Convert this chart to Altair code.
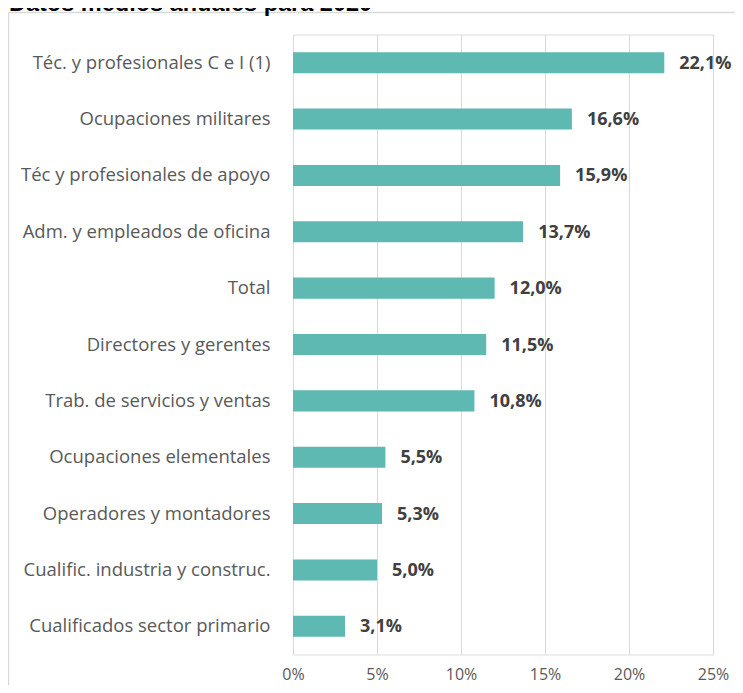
import altair as alt
import pandas as pd

categories = [
    "Téc. y profesionales C e I (1)",
    "Ocupaciones militares",
    "Téc y profesionales de apoyo",
    "Adm. y empleados de oficina",
    "Total",
    "Directores y gerentes",
    "Trab. de servicios y ventas",
    "Ocupaciones elementales",
    "Operadores y montadores",
    "Cualific. industria y construc.",
    "Cualificados sector primario",
]
values = [22.1, 16.6, 15.9, 13.7, 12.0, 11.5, 10.8, 5.5, 5.3, 5.0, 3.1]
x_ticks = [0, 0.05, 0.10, 0.15, 0.20, 0.25]
title_text = "Datos medios anuales para 2020"

df = pd.DataFrame({
    "cat": categories,
    "val": [v / 100 for v in values],
    "label": [f"{v:.1f}".replace(".", ",") + "%" for v in values],
})

x_enc = alt.X(
    "val:Q",
    scale=alt.Scale(domain=[0, 0.25], nice=False, zero=True),
    axis=alt.Axis(
        values=x_ticks, format=".0%", title=None, domain=False, ticks=False,
        tickSize=0, grid=True, gridColor="#d9d9d9", gridWidth=1,
        labelFont="Open Sans", labelFontSize=16, labelColor="#595959",
        labelPadding=12, labelFlush=False,
    ),
)
y_enc = alt.Y(
    "cat:N",
    sort=categories,
    scale=alt.Scale(paddingInner=0.627, paddingOuter=0.3135),
    axis=alt.Axis(
        title=None, domain=False, ticks=False, tickSize=0,
        labelFont="Open Sans", labelFontSize=18.5, labelColor="#595959",
        labelPadding=23, labelLimit=0, labelOverlap=False,
    ),
)

bars = alt.Chart(df).mark_bar(color="#5DB9B2").encode(x=x_enc, y=y_enc)

labels = alt.Chart(df).mark_text(
    align="left", baseline="middle", dx=15, dy=1, font="Open Sans",
    fontSize=18, fontWeight="bold", color="#404040",
).encode(
    x=alt.X("val:Q"),
    y=alt.Y("cat:N", sort=categories),
    text="label:N",
)

one = alt.Data(values=[{"k": 1}])

border_top = alt.Chart(one).mark_rule(color="#d9d9d9", strokeWidth=1.5).encode(
    x=alt.value(-284.5), x2=alt.value(442), y=alt.value(-22)
)
border_left = alt.Chart(one).mark_rule(color="#d9d9d9", strokeWidth=1.5).encode(
    x=alt.value(-284.5), y=alt.value(-22), y2=alt.value(651)
)

title = alt.Chart(alt.Data(values=[{"t": title_text}])).mark_text(
    align="left", baseline="alphabetic", font="Liberation Sans",
    fontSize=23.5, fontWeight="bold", color="#000000",
).encode(x=alt.value(-284), y=alt.value(-23.5), text="t:N")

chart = alt.layer(bars, labels, border_top, border_left, title).properties(
    width=420,
    height=620,
    padding={"left": 285, "top": 26.5, "right": 22, "bottom": 30.5},
    autosize=alt.AutoSizeParams(type="none"),
).configure_view(stroke=None).configure(background="white")

chart.save("out.html", embed_options={"renderer": "svg", "actions": False})
